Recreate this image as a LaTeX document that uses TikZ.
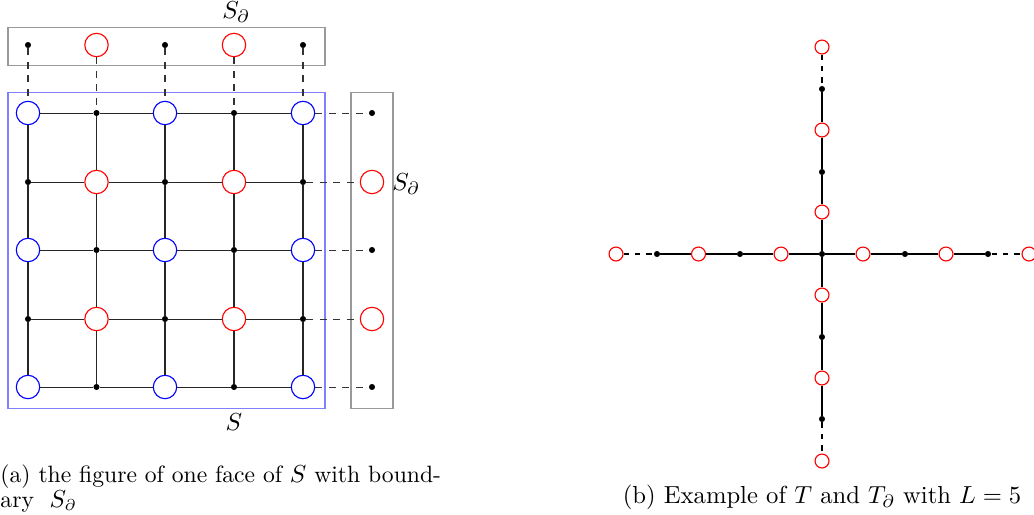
\documentclass[tikz,border=0pt]{standalone}
\usetikzlibrary{calc}
\begin{document}
\begin{tikzpicture}[x=0.4444pt,y=-0.4444pt,
  bnode/.style={circle,draw=blue,line width=0.5pt,minimum size=10.4pt,inner sep=0pt},
  rnode/.style={circle,draw=red,line width=0.5pt,minimum size=10.4pt,inner sep=0pt},
  rsmall/.style={circle,draw=red,line width=0.5pt,minimum size=6.2pt,inner sep=0pt},
  dnode/.style={circle,fill=black,minimum size=2.7pt,inner sep=0pt},
  gridedge/.style={black!85,line width=0.45pt},
  bdash/.style={black!80,dashed,line width=0.45pt},
  graybox/.style={draw=black!40,line width=0.45pt},
  bluebox/.style={draw=blue!50,line width=0.45pt},
  tedge/.style={black,line width=0.5pt},
  tdash/.style={black,dashed,dash pattern=on 2.5pt off 2.5pt,line width=0.5pt},
  lbl/.style={font=\fontsize{10.95}{13}\selectfont},
  captext/.style={inner sep=0pt,font=\fontsize{10.95}{13}\selectfont}]
\useasboundingbox (0,0) rectangle (1034,514);
% boxes
\draw[graybox] (8,27) rectangle (325,65);
\draw[bluebox] (8,92) rectangle (325,408);
\draw[graybox] (351,92) rectangle (393,408);
% grid nodes
\foreach \i/\x in {0/28,1/96.5,2/165,3/234,4/303}{
  \foreach \j/\y in {0/113,1/182,2/250,3/319,4/387}{
    \pgfmathtruncatemacro{\s}{mod(\i+\j,2)}
    \pgfmathtruncatemacro{\e}{mod(\i,2)}
    \ifnum\s=1
      \node[dnode] (g\i\j) at (\x,\y) {};
    \else
      \ifnum\e=0
        \node[bnode] (g\i\j) at (\x,\y) {};
      \else
        \node[rnode] (g\i\j) at (\x,\y) {};
      \fi
    \fi
  }
}
% grid edges
\foreach \i/\ii in {0/1,1/2,2/3,3/4}{
  \foreach \j in {0,...,4}{
    \draw[gridedge] (g\i\j) -- (g\ii\j);
    \draw[gridedge] (g\j\i) -- (g\j\ii);
  }
}
% top boundary nodes
\node[dnode] (t0) at (28,45) {};
\node[rnode] (t1) at (96.5,45) {};
\node[dnode] (t2) at (165,45) {};
\node[rnode] (t3) at (234,45) {};
\node[dnode] (t4) at (303,45) {};
% right boundary nodes
\node[dnode] (r0) at (372,113) {};
\node[rnode] (r1) at (372,182) {};
\node[dnode] (r2) at (372,250) {};
\node[rnode] (r3) at (372,319) {};
\node[dnode] (r4) at (372,387) {};
\foreach \k in {0,...,4}{
  \draw[bdash] (t\k) -- (g\k0);
  \draw[bdash] (g4\k) -- (r\k);
}
% labels
\node[lbl] (lt) at (236,12) {$S_\partial$};
\node[lbl] (lr) at (406,184) {$S_\partial$};
\node[lbl] (lb) at (234,422) {$S$};
\node[captext,anchor=base west,font=\fontsize{10.5}{13}\selectfont] (capa1) at (0,482) {(a) the figure of one face of $S$ with bound-};
\node[captext,anchor=base west,font=\fontsize{10.5}{13}\selectfont] (capa2) at (0,507) {ary\ \ $S_\partial$};
% right panel
\node[dnode] (c) at (822,254) {};
\node[rsmall] (h1) at (616,254) {};
\node[dnode] (h2) at (657,254) {};
\node[rsmall] (h3) at (698.5,254) {};
\node[dnode] (h4) at (740,254) {};
\node[rsmall] (h5) at (781,254) {};
\node[rsmall] (h6) at (863,254) {};
\node[dnode] (h7) at (905,254) {};
\node[rsmall] (h8) at (946,254) {};
\node[dnode] (h9) at (988,254) {};
\node[rsmall] (h10) at (1029,254) {};
\node[rsmall] (v1) at (822,47) {};
\node[dnode] (v2) at (822,89) {};
\node[rsmall] (v3) at (822,130) {};
\node[dnode] (v4) at (822,172) {};
\node[rsmall] (v5) at (822,212) {};
\node[rsmall] (v6) at (822,295) {};
\node[dnode] (v7) at (822,337) {};
\node[rsmall] (v8) at (822,378) {};
\node[dnode] (v9) at (822,419) {};
\node[rsmall] (v10) at (822,461) {};
\draw[tdash] (h1) -- (h2);
\draw[tedge] (h2) -- (h3) -- (h4) -- (h5) -- (c) -- (h6) -- (h7) -- (h8) -- (h9);
\draw[tdash] (h9) -- (h10);
\draw[tdash] (v1) -- (v2);
\draw[tedge] (v2) -- (v3) -- (v4) -- (v5) -- (c) -- (v6) -- (v7) -- (v8) -- (v9);
\draw[tdash] (v9) -- (v10);
\node[captext,anchor=base] (capb) at (822,503) {(b) Example of $T$ and $T_\partial$ with $L=5$};
\end{tikzpicture}
\end{document}
